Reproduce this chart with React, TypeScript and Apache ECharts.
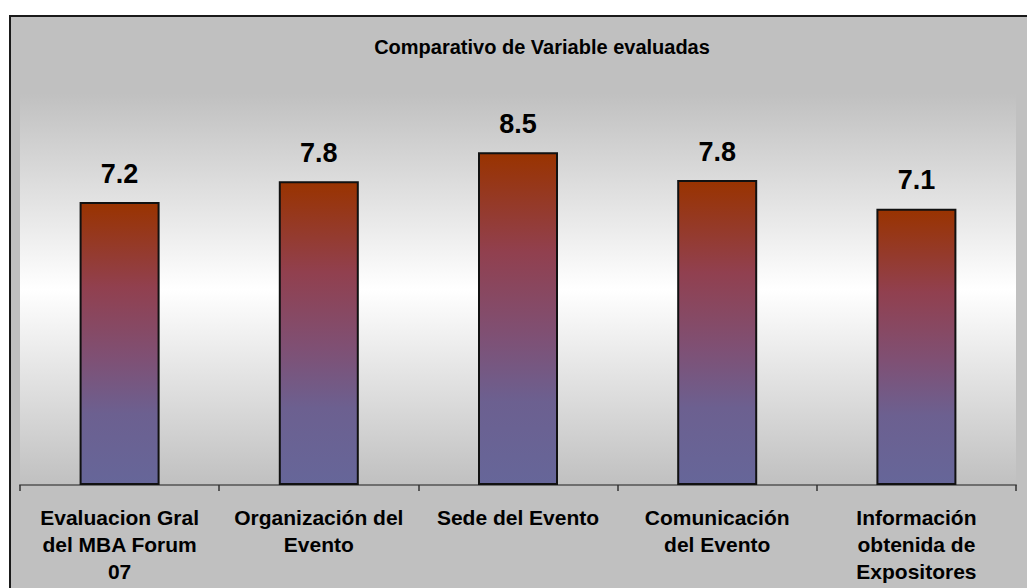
import React, { useEffect, useRef } from "react";
import * as echarts from "echarts";

const categories = [
  "Evaluacion Gral\ndel MBA Forum\n07",
  "Organización del\nEvento",
  "Sede del Evento",
  "Comunicación\ndel Evento",
  "Información\nobtenida de\nExpositores",
];
const values = [7.23, 7.76, 8.5, 7.79, 7.06];
const chartTitle = "Comparativo de Variable evaluadas";

export default function App() {
  const ref = useRef<HTMLDivElement>(null);
  useEffect(() => {
    if (!ref.current) return;
    const chart = echarts.init(ref.current, null, { renderer: "svg" });
    const font = '"Liberation Sans", Arial, sans-serif';
    chart.setOption({
      animation: false,
      backgroundColor: "#ffffff",
      graphic: [
        {
          type: "rect",
          z: -10,
          silent: true,
          shape: { x: 10, y: 16, width: 1100, height: 700 },
          style: { fill: "#c0c0c0", stroke: "#1a1a1a", lineWidth: 2 },
        },
        {
          type: "text",
          x: 542,
          y: 47,
          z: 10,
          style: {
            text: chartTitle,
            align: "center",
            verticalAlign: "middle",
            fontSize: 20,
            fontWeight: "bold",
            fontFamily: font,
            fill: "#000",
          },
        },
      ],
      grid: {
        left: 20,
        right: 11,
        top: 93.6,
        bottom: 103,
        show: true,
        borderWidth: 0,
        backgroundColor: new echarts.graphic.LinearGradient(0, 0, 0, 1, [
          { offset: 0, color: "#c0c0c0" },
          { offset: 0.5, color: "#ffffff" },
          { offset: 1, color: "#c0c0c0" },
        ]),
        outerBoundsMode: "none",
      },
      xAxis: {
        type: "category",
        data: categories,
        axisLine: { lineStyle: { color: "#6e6e6e", width: 2 } },
        axisTick: { show: true, length: 6, lineStyle: { color: "#333", width: 1.5 } },
        axisLabel: {
          color: "#000",
          fontSize: 21,
          fontWeight: "bold",
          fontFamily: font,
          lineHeight: 27,
          margin: 19,
          interval: 0,
        },
        splitLine: { show: false },
      },
      yAxis: {
        type: "value",
        min: 0,
        max: 10,
        show: false,
        splitLine: { show: false },
      },
      series: [
        {
          type: "bar",
          data: values,
          barWidth: 80,
          itemStyle: {
            color: new echarts.graphic.LinearGradient(0, 0, 0, 1, [
              { offset: 0, color: "#993300" },
              { offset: 0.3, color: "#91404f" },
              { offset: 0.55, color: "#7f5074" },
              { offset: 0.75, color: "#6c6090" },
              { offset: 1, color: "#666699" },
            ]),
            borderColor: "#111",
            borderWidth: 2,
          },
          label: {
            show: true,
            position: "top",
            distance: 15,
            color: "#000",
            fontSize: 27,
            fontWeight: "bold",
            fontFamily: font,
            formatter: (p: any) => Number(p.value).toFixed(1),
          },
        },
      ],
    });
    return () => chart.dispose();
  }, []);
  return (
    <div
      ref={ref}
      style={{ position: "absolute", left: 0, top: 0, width: 1027, height: 588 }}
    />
  );
}
